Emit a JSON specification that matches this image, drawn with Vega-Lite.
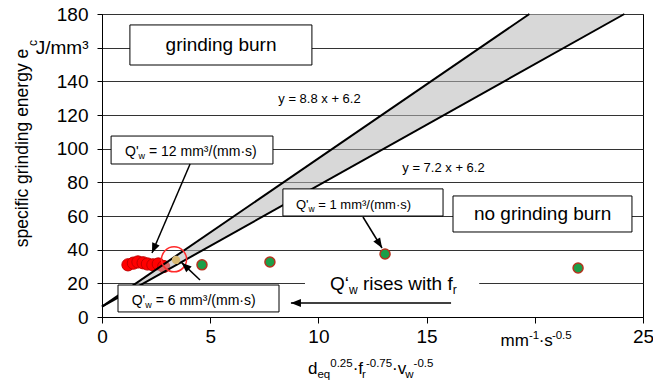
{
  "$schema": "https://vega.github.io/schema/vega-lite/v6.json",
  "width": 541,
  "height": 303,
  "autosize": "none",
  "padding": {"left": 102, "top": 14, "right": 10, "bottom": 67},
  "background": "white",
  "config": {"view": {"stroke": "black", "strokeWidth": 1}, "font": "Liberation Sans", "text": {"font": "Liberation Sans", "color": "black"}},
  "datasets": {
    "reds": [{"x": 1.2, "y": 31}, {"x": 1.45, "y": 32}, {"x": 1.66, "y": 32.7}, {"x": 1.9, "y": 32.2}, {"x": 2.1, "y": 31.5}, {"x": 2.35, "y": 31}, {"x": 2.6, "y": 31.5}, {"x": 2.85, "y": 30}],
    "greens": [{"x": 4.62, "y": 31}, {"x": 7.76, "y": 32.7}, {"x": 13.08, "y": 37.4}, {"x": 22.0, "y": 29.1}],
    "lines": [{"line": "y = 8.8 x + 6.2", "x": 0, "y": 6.2}, {"line": "y = 8.8 x + 6.2", "x": 19.75, "y": 180}, {"line": "y = 7.2 x + 6.2", "x": 0, "y": 6.2}, {"line": "y = 7.2 x + 6.2", "x": 24.14, "y": 180}],
    "band": [{"x": 0, "y": 6.2, "hi": 6.2}, {"x": 19.75, "y": 148.4, "hi": 180}, {"x": 24.14, "y": 180, "hi": 180}],
    "boxes": [{"x": 1.29, "x2": 9.7, "y": 149.7, "y2": 173.5}, {"x": 0.42, "x2": 7.9, "y": 90.9, "y2": 107.5}, {"x": 0.74, "x2": 8.18, "y": 3.0, "y2": 19.0}, {"x": 8.36, "x2": 15.76, "y": 60.0, "y2": 76.1}, {"x": 16.22, "x2": 24.49, "y": 50.5, "y2": 71.9}],
    "arrows": [{"x": 4.07, "y": 90.9, "x2": 2.31, "y2": 38.0}, {"x": 4.53, "y": 22.0, "x2": 3.68, "y2": 32.3}, {"x": 12.06, "y": 59.4, "x2": 12.94, "y2": 41.0}, {"x": 16.13, "y": 8.3, "x2": 8.73, "y2": 8.3}]
  },
  "layer": [
    {
      "data": {"name": "reds"},
      "mark": {"type": "point", "shape": "circle", "filled": true, "fill": "#ff0000", "stroke": "#c00000", "strokeWidth": 1, "size": 150, "opacity": 1},
      "encoding": {
        "x": {"field": "x", "type": "quantitative", "title": null, "scale": {"domain": [0, 25], "nice": false},
          "axis": {"values": [0, 5, 10, 15, 20, 25], "labelOverlap": false, "labelFlush": false, "labelExpr": "datum.value == 20 ? '' : datum.label", "title": null, "grid": false, "domainColor": "black", "tickColor": "black", "tickSize": 6, "labelFontSize": 19, "labelColor": "black", "labelFont": "Liberation Sans", "labelPadding": 4}},
        "y": {"field": "y", "type": "quantitative", "title": null, "scale": {"domain": [0, 180], "nice": false},
          "axis": {"values": [0, 20, 40, 60, 80, 100, 120, 140, 160, 180], "tickCount": 10, "labelOverlap": false, "labelFlush": false, "labelExpr": "datum.value == 160 ? 'J/mm³' : datum.label", "title": null, "grid": true, "gridColor": "#333333", "gridOpacity": 1, "domainColor": "black", "tickColor": "black", "tickSize": 5, "labelFontSize": 19, "labelColor": "black", "labelFont": "Liberation Sans", "labelPadding": 9}}
      }
    },
    {
      "data": {"name": "band"},
      "mark": {"type": "area", "color": "#b8b8b8", "opacity": 0.55},
      "encoding": {
        "x": {"field": "x", "type": "quantitative", "title": null, "scale": {"domain": [0, 25], "nice": false}},
        "y": {"field": "y", "type": "quantitative", "title": null, "scale": {"domain": [0, 180], "nice": false}},
        "y2": {"field": "hi"}
      }
    },
    {
      "data": {"name": "lines"},
      "mark": {"type": "line", "color": "black", "strokeWidth": 2},
      "encoding": {
        "x": {"field": "x", "type": "quantitative", "title": null, "scale": {"domain": [0, 25], "nice": false}},
        "y": {"field": "y", "type": "quantitative", "title": null, "scale": {"domain": [0, 180], "nice": false}},
        "detail": {"field": "line"}
      }
    },
    {
      "data": {"name": "greens"},
      "mark": {"type": "point", "shape": "circle", "filled": true, "fill": "#1c9e48", "stroke": "#b5321e", "strokeWidth": 1.5, "size": 100, "opacity": 1},
      "encoding": {
        "x": {"field": "x", "type": "quantitative", "title": null, "scale": {"domain": [0, 25], "nice": false}},
        "y": {"field": "y", "type": "quantitative", "title": null, "scale": {"domain": [0, 180], "nice": false}}
      }
    },
    {
      "data": {"values": [{"x": 3.42, "y": 33.9}]},
      "mark": {"type": "point", "shape": "circle", "filled": true, "fill": "#d8b870", "strokeWidth": 0, "size": 70, "opacity": 1},
      "encoding": {
        "x": {"field": "x", "type": "quantitative", "title": null, "scale": {"domain": [0, 25], "nice": false}},
        "y": {"field": "y", "type": "quantitative", "title": null, "scale": {"domain": [0, 180], "nice": false}}
      }
    },
    {
      "data": {"values": [{"x": 3.33, "y": 34.3}]},
      "mark": {"type": "point", "shape": "circle", "filled": false, "stroke": "#ff2a2a", "strokeWidth": 1.5, "size": 625, "opacity": 1},
      "encoding": {
        "x": {"field": "x", "type": "quantitative", "title": null, "scale": {"domain": [0, 25], "nice": false}},
        "y": {"field": "y", "type": "quantitative", "title": null, "scale": {"domain": [0, 180], "nice": false}}
      }
    },
    {
      "data": {"values": [{"x": 9.38, "x2": 17.43, "y": 13.5, "y2": 26}]},
      "mark": {"type": "rect", "fill": "white", "strokeWidth": 0},
      "encoding": {
        "x": {"field": "x", "type": "quantitative", "title": null, "scale": {"domain": [0, 25], "nice": false}},
        "x2": {"field": "x2"},
        "y": {"field": "y", "type": "quantitative", "title": null, "scale": {"domain": [0, 180], "nice": false}},
        "y2": {"field": "y2"}
      }
    },
    {
      "data": {"name": "boxes"},
      "mark": {"type": "rect", "fill": "white", "stroke": "black", "strokeWidth": 1},
      "encoding": {
        "x": {"field": "x", "type": "quantitative", "title": null, "scale": {"domain": [0, 25], "nice": false}},
        "x2": {"field": "x2"},
        "y": {"field": "y", "type": "quantitative", "title": null, "scale": {"domain": [0, 180], "nice": false}},
        "y2": {"field": "y2"}
      }
    },
    {
      "data": {"values": [{"x": 5.5, "y": 161.6, "t": "grinding burn"}, {"x": 20.36, "y": 61.2, "t": "no grinding burn"}]},
      "mark": {"type": "text", "fontSize": 19, "align": "center", "baseline": "middle"},
      "encoding": {
        "x": {"field": "x", "type": "quantitative", "title": null, "scale": {"domain": [0, 25], "nice": false}},
        "y": {"field": "y", "type": "quantitative", "title": null, "scale": {"domain": [0, 180], "nice": false}},
        "text": {"field": "t"}
      }
    },
    {
      "data": {"values": [{"x": 10.05, "y": 129.3, "t": "y = 8.8 x + 6.2"}, {"x": 15.78, "y": 88.5, "t": "y = 7.2 x + 6.2"}]},
      "mark": {"type": "text", "fontSize": 13, "align": "center", "baseline": "middle"},
      "encoding": {
        "x": {"field": "x", "type": "quantitative", "title": null, "scale": {"domain": [0, 25], "nice": false}},
        "y": {"field": "y", "type": "quantitative", "title": null, "scale": {"domain": [0, 180], "nice": false}},
        "text": {"field": "t"}
      }
    },
    {
      "data": {"values": [{"x": 1.063, "y": 95.5, "t": "Q'"}, {"x": 2.172, "y": 95.5, "t": "= 12 mm³/(mm·s)"}, {"x": 1.372, "y": 7.13, "t": "Q'"}, {"x": 2.481, "y": 7.13, "t": "= 6 mm³/(mm·s)"}]},
      "mark": {"type": "text", "fontSize": 14, "align": "left", "baseline": "alphabetic"},
      "encoding": {
        "x": {"field": "x", "type": "quantitative", "title": null, "scale": {"domain": [0, 25], "nice": false}},
        "y": {"field": "y", "type": "quantitative", "title": null, "scale": {"domain": [0, 180], "nice": false}},
        "text": {"field": "t"}
      }
    },
    {
      "data": {"values": [{"x": 1.691, "y": 95.5, "t": "w"}, {"x": 2.0, "y": 7.13, "t": "w"}]},
      "mark": {"type": "text", "fontSize": 9, "align": "left", "baseline": "alphabetic", "dy": 3},
      "encoding": {
        "x": {"field": "x", "type": "quantitative", "title": null, "scale": {"domain": [0, 25], "nice": false}},
        "y": {"field": "y", "type": "quantitative", "title": null, "scale": {"domain": [0, 180], "nice": false}},
        "text": {"field": "t"}
      }
    },
    {
      "data": {"values": [{"x": 8.965, "y": 64.35, "t": "Q'"}, {"x": 9.996, "y": 64.35, "t": "= 1 mm³/(mm·s)"}]},
      "mark": {"type": "text", "fontSize": 13, "align": "left", "baseline": "alphabetic"},
      "encoding": {
        "x": {"field": "x", "type": "quantitative", "title": null, "scale": {"domain": [0, 25], "nice": false}},
        "y": {"field": "y", "type": "quantitative", "title": null, "scale": {"domain": [0, 180], "nice": false}},
        "text": {"field": "t"}
      }
    },
    {
      "data": {"values": [{"x": 9.547, "y": 64.35, "t": "w"}]},
      "mark": {"type": "text", "fontSize": 8.5, "align": "left", "baseline": "alphabetic", "dy": 3},
      "encoding": {
        "x": {"field": "x", "type": "quantitative", "title": null, "scale": {"domain": [0, 25], "nice": false}},
        "y": {"field": "y", "type": "quantitative", "title": null, "scale": {"domain": [0, 180], "nice": false}},
        "text": {"field": "t"}
      }
    },
    {
      "data": {"values": [{"x": 10.536, "y": 16.0, "t": "Q‘"}, {"x": 12.06, "y": 16.0, "t": "rises with f"}]},
      "mark": {"type": "text", "fontSize": 19, "align": "left", "baseline": "alphabetic"},
      "encoding": {
        "x": {"field": "x", "type": "quantitative", "title": null, "scale": {"domain": [0, 25], "nice": false}},
        "y": {"field": "y", "type": "quantitative", "title": null, "scale": {"domain": [0, 180], "nice": false}},
        "text": {"field": "t"}
      }
    },
    {
      "data": {"values": [{"x": 11.414, "y": 16.0, "t": "w"}, {"x": 16.206, "y": 16.0, "t": "r"}]},
      "mark": {"type": "text", "fontSize": 12, "align": "left", "baseline": "alphabetic", "dy": 4},
      "encoding": {
        "x": {"field": "x", "type": "quantitative", "title": null, "scale": {"domain": [0, 25], "nice": false}},
        "y": {"field": "y", "type": "quantitative", "title": null, "scale": {"domain": [0, 180], "nice": false}},
        "text": {"field": "t"}
      }
    },
    {
      "data": {"values": [{"x": 9.52, "y": -33.9, "t": "d"}, {"x": 11.583, "y": -33.9, "t": "·f"}, {"x": 13.406, "y": -33.9, "t": "·v"}, {"x": 18.42, "y": -17.0, "t": "mm"}, {"x": 20.18, "y": -17.0, "t": "·s"}]},
      "mark": {"type": "text", "fontSize": 17, "align": "left", "baseline": "alphabetic"},
      "encoding": {
        "x": {"field": "x", "type": "quantitative", "title": null, "scale": {"domain": [0, 25], "nice": false}},
        "y": {"field": "y", "type": "quantitative", "title": null, "scale": {"domain": [0, 180], "nice": false}},
        "text": {"field": "t"}
      }
    },
    {
      "data": {"values": [{"x": 9.957, "y": -33.9, "t": "eq"}, {"x": 12.02, "y": -33.9, "t": "r"}, {"x": 14.016, "y": -33.9, "t": "w"}]},
      "mark": {"type": "text", "fontSize": 11.5, "align": "left", "baseline": "alphabetic", "dy": 4},
      "encoding": {
        "x": {"field": "x", "type": "quantitative", "title": null, "scale": {"domain": [0, 25], "nice": false}},
        "y": {"field": "y", "type": "quantitative", "title": null, "scale": {"domain": [0, 180], "nice": false}},
        "text": {"field": "t"}
      }
    },
    {
      "data": {"values": [{"x": 10.548, "y": -33.9, "t": "0.25"}, {"x": 12.196, "y": -33.9, "t": "-0.75"}, {"x": 14.4, "y": -33.9, "t": "-0.5"}, {"x": 19.728, "y": -17.0, "t": "-1"}, {"x": 20.79, "y": -17.0, "t": "-0.5"}]},
      "mark": {"type": "text", "fontSize": 11.5, "align": "left", "baseline": "alphabetic", "dy": -7},
      "encoding": {
        "x": {"field": "x", "type": "quantitative", "title": null, "scale": {"domain": [0, 25], "nice": false}},
        "y": {"field": "y", "type": "quantitative", "title": null, "scale": {"domain": [0, 180], "nice": false}},
        "text": {"field": "t"}
      }
    },
    {
      "data": {"values": [{"x": -3.42, "y": 100.4, "t": "specific grinding energy e"}]},
      "mark": {"type": "text", "fontSize": 17.5, "align": "center", "baseline": "alphabetic", "angle": 270},
      "encoding": {
        "x": {"field": "x", "type": "quantitative", "title": null, "scale": {"domain": [0, 25], "nice": false}},
        "y": {"field": "y", "type": "quantitative", "title": null, "scale": {"domain": [0, 180], "nice": false}},
        "text": {"field": "t"}
      }
    },
    {
      "data": {"values": [{"x": -3.0, "y": 161.0, "t": "c"}]},
      "mark": {"type": "text", "fontSize": 12, "align": "left", "baseline": "alphabetic", "angle": 270},
      "encoding": {
        "x": {"field": "x", "type": "quantitative", "title": null, "scale": {"domain": [0, 25], "nice": false}},
        "y": {"field": "y", "type": "quantitative", "title": null, "scale": {"domain": [0, 180], "nice": false}},
        "text": {"field": "t"}
      }
    },
    {
      "data": {"name": "arrows"},
      "mark": {"type": "rule", "color": "black", "strokeWidth": 1.5},
      "encoding": {
        "x": {"field": "x", "type": "quantitative", "title": null, "scale": {"domain": [0, 25], "nice": false}},
        "y": {"field": "y", "type": "quantitative", "title": null, "scale": {"domain": [0, 180], "nice": false}},
        "x2": {"field": "x2"},
        "y2": {"field": "y2"}
      }
    },
    {
      "data": {"values": [{"x": 2.31, "y": 38.0}]},
      "mark": {"type": "point", "shape": "M0,0L0.4,1L-0.4,1Z", "filled": true, "fill": "black", "strokeWidth": 0, "size": 400, "opacity": 1, "angle": 203},
      "encoding": {
        "x": {"field": "x", "type": "quantitative", "title": null, "scale": {"domain": [0, 25], "nice": false}},
        "y": {"field": "y", "type": "quantitative", "title": null, "scale": {"domain": [0, 180], "nice": false}}
      }
    },
    {
      "data": {"values": [{"x": 3.68, "y": 32.3}]},
      "mark": {"type": "point", "shape": "M0,0L0.4,1L-0.4,1Z", "filled": true, "fill": "black", "strokeWidth": 0, "size": 400, "opacity": 1, "angle": 313},
      "encoding": {
        "x": {"field": "x", "type": "quantitative", "title": null, "scale": {"domain": [0, 25], "nice": false}},
        "y": {"field": "y", "type": "quantitative", "title": null, "scale": {"domain": [0, 180], "nice": false}}
      }
    },
    {
      "data": {"values": [{"x": 12.94, "y": 41.0}]},
      "mark": {"type": "point", "shape": "M0,0L0.4,1L-0.4,1Z", "filled": true, "fill": "black", "strokeWidth": 0, "size": 400, "opacity": 1, "angle": 148},
      "encoding": {
        "x": {"field": "x", "type": "quantitative", "title": null, "scale": {"domain": [0, 25], "nice": false}},
        "y": {"field": "y", "type": "quantitative", "title": null, "scale": {"domain": [0, 180], "nice": false}}
      }
    },
    {
      "data": {"values": [{"x": 8.73, "y": 8.3}]},
      "mark": {"type": "point", "shape": "M0,0L0.4,1L-0.4,1Z", "filled": true, "fill": "black", "strokeWidth": 0, "size": 400, "opacity": 1, "angle": 270},
      "encoding": {
        "x": {"field": "x", "type": "quantitative", "title": null, "scale": {"domain": [0, 25], "nice": false}},
        "y": {"field": "y", "type": "quantitative", "title": null, "scale": {"domain": [0, 180], "nice": false}}
      }
    }
  ]
}
